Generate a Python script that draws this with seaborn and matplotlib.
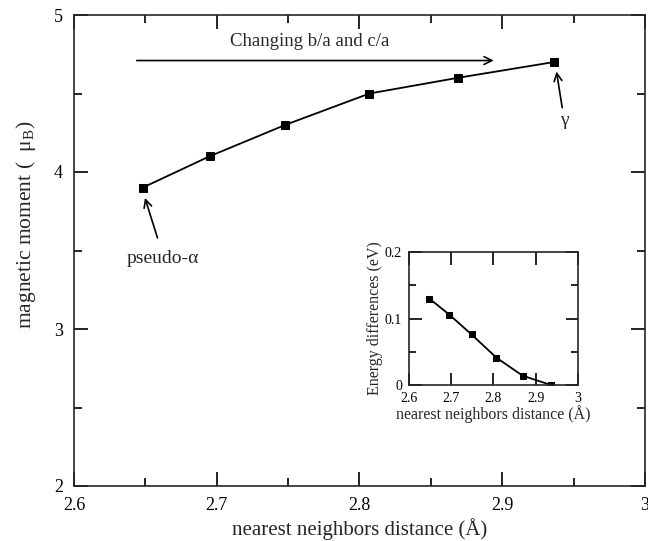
import numpy as np
import pandas as pd
import matplotlib
matplotlib.use("Agg")
import matplotlib.pyplot as plt
from matplotlib.ticker import MultipleLocator, FixedLocator
import seaborn as sns

# ---- data ----
distance = [2.648, 2.695, 2.748, 2.807, 2.869, 2.936]
moment = [3.90, 4.10, 4.30, 4.50, 4.60, 4.70]
energy_diff = [0.130, 0.106, 0.076, 0.041, 0.014, 0.000]

main_xticks = [2.6, 2.7, 2.8, 2.9, 3.0]
main_xticklabels = ["2.6", "2.7", "2.8", "2.9", "3"]
main_yticks = [2, 3, 4, 5]
main_yticklabels = ["2", "3", "4", "5"]
inset_xticks = [2.6, 2.7, 2.8, 2.9, 3.0]
inset_xticklabels = ["2.6", "2.7", "2.8", "2.9", "3"]
inset_yticks = [0, 0.1, 0.2]
inset_yticklabels = ["0", "0.1", "0.2"]

sns.set_style("ticks")
plt.rcParams["font.family"] = ["Liberation Serif", "DejaVu Serif"]
plt.rcParams["mathtext.fontset"] = "custom"
plt.rcParams["mathtext.rm"] = "Liberation Serif"
plt.rcParams["mathtext.it"] = "Liberation Serif:italic"

df_main = pd.DataFrame({"distance": distance, "moment": moment})
df_inset = pd.DataFrame({"distance": distance, "energy": energy_diff})

fig = plt.figure(figsize=(6.48, 5.41), dpi=100)
ax = fig.add_axes([74 / 648, 1 - 486 / 541, (645 - 74) / 648, (486 - 15) / 541])

sns.lineplot(data=df_main, x="distance", y="moment", ax=ax, color="black",
             marker="s", markersize=5.5, markeredgecolor="black",
             linewidth=1.3, legend=False)

ax.set_xlim(2.6, 3.0)
ax.set_ylim(2, 5)
ax.set_xticks(main_xticks)
ax.set_xticklabels(main_xticklabels)
ax.set_yticks(main_yticks)
ax.set_yticklabels(main_yticklabels)
ax.xaxis.set_minor_locator(MultipleLocator(0.05))
ax.yaxis.set_minor_locator(MultipleLocator(0.5))
ax.tick_params(which="both", direction="in", top=True, right=True, width=1.2,
               labelsize=13, colors="black")
ax.tick_params(which="major", length=10)
ax.tick_params(which="minor", length=5.5)
ax.tick_params(axis="x", pad=8)
ax.tick_params(axis="y", pad=8)
for s in ax.spines.values():
    s.set_linewidth(1.2)
    s.set_visible(True)
ax.set_xlabel("nearest neighbors distance (Å)", fontsize=15, labelpad=3)
ax.set_ylabel(r"magnetic moment (  $\mathrm{μ}_{\mathrm{B}}$)", fontsize=15.5)
ax.yaxis.set_label_coords(-0.063, 0.555)

arrow_kw = dict(arrowstyle="->", color="black", lw=1.2, shrinkA=0, shrinkB=0,
                mutation_scale=14)
ax.annotate("", xy=(2.894, 4.71), xytext=(2.644, 4.71), arrowprops=arrow_kw)
ax.text(2.765, 4.83, "Changing b/a and c/a", ha="center", va="center", fontsize=13.5)
ax.annotate("", xy=(2.6497, 3.835), xytext=(2.6585, 3.58), arrowprops=arrow_kw)
ax.text(2.6625, 3.446, "pseudo-α", ha="center", va="center", fontsize=14)
ax.annotate("", xy=(2.938, 4.64), xytext=(2.942, 4.41), arrowprops=arrow_kw)
ax.text(2.9435, 4.33, "γ", ha="center", va="center", fontsize=14)

# ---- inset ----
axi = fig.add_axes([409 / 648, 1 - 385 / 541, (578 - 409) / 648, (385 - 252) / 541])
sns.lineplot(data=df_inset, x="distance", y="energy", ax=axi, color="black",
             marker="s", markersize=5, markeredgecolor="black",
             linewidth=1.3, legend=False)
axi.set_xlim(2.6, 3.0)
axi.set_ylim(0, 0.2)
axi.set_xticks(inset_xticks)
axi.set_xticklabels(inset_xticklabels)
axi.set_yticks(inset_yticks)
axi.set_yticklabels(inset_yticklabels)
axi.yaxis.set_minor_locator(FixedLocator([0.05, 0.15]))
axi.tick_params(which="both", direction="in", top=True, right=True, width=1.2,
                labelsize=10, colors="black")
axi.tick_params(axis="x", pad=5)
axi.tick_params(axis="y", pad=5)
axi.tick_params(which="major", length=9)
axi.tick_params(which="minor", length=5)
for s in axi.spines.values():
    s.set_linewidth(1.2)
    s.set_visible(True)
axi.set_xlabel("nearest neighbors distance (Å)", fontsize=11.5, labelpad=0)
axi.set_ylabel("Energy differences (eV)", fontsize=11.5, labelpad=1)

fig.savefig("out.png", dpi=100)
